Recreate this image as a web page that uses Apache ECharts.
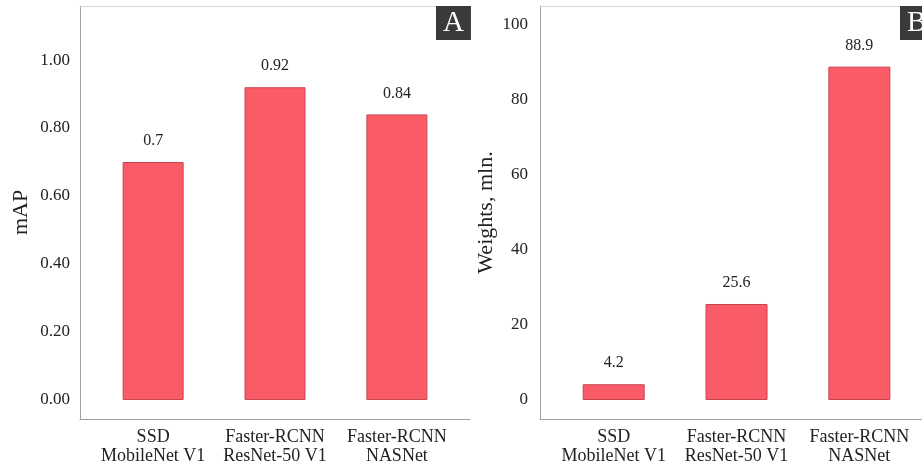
<!DOCTYPE html>
<html>
<head>
<meta charset="utf-8">
<script src="https://cdn.jsdelivr.net/npm/echarts@6/dist/echarts.min.js"></script>
<style>
html,body{margin:0;padding:0;background:#fff;}
#chart{width:922px;height:468px;}
</style>
</head>
<body>
<div id="chart"></div>
<script>
// ---- data ----
const categories = ['SSD\nMobileNet V1', 'Faster-RCNN\nResNet-50 V1', 'Faster-RCNN\nNASNet'];
const mapValues = [0.7, 0.92, 0.84];
const weightValues = [4.2, 25.6, 88.9];
const mapTicks = [0, 0.2, 0.4, 0.6, 0.8, 1.0];
const weightTicks = [0, 20, 40, 60, 80, 100];
const panelLetters = ['A', 'B'];

const FONT = 'Liberation Serif';
const BAR_COLOR = '#F95C67';
const BAR_BORDER = '#C9434F';
const TEXT = '#222222';

const chart = echarts.init(document.getElementById('chart'), null, {renderer: 'canvas'});

function xAxisMain(gridIndex, xMax) {
  return {
    type: 'value', gridIndex: gridIndex, min: -0.6, max: xMax, position: 'bottom',
    axisLine: {show: true, onZero: false, lineStyle: {color: '#a0a0a0', width: 1}},
    axisTick: {show: false},
    splitLine: {show: false},
    axisLabel: {
      customValues: categories.map((c, i) => i),
      formatter: v => categories[Math.round(v)],
      fontFamily: FONT, fontSize: 18, lineHeight: 19, color: TEXT, margin: 9,
      hideOverlap: false
    }
  };
}
function xAxisTop(gridIndex, xMax) {
  return {
    type: 'value', gridIndex: gridIndex, min: -0.6, max: xMax, position: 'top',
    axisLine: {show: true, onZero: false, lineStyle: {color: '#d4d4d4', width: 1}},
    axisTick: {show: false}, axisLabel: {show: false}, splitLine: {show: false}
  };
}

const option = {
  backgroundColor: '#ffffff',
  animation: false,
  title: [
    {text: panelLetters[0], left: 436, top: 6, padding: [0, 7], backgroundColor: '#3a3a3a',
     textStyle: {color: '#ffffff', fontFamily: FONT, fontSize: 29, fontWeight: 'normal', lineHeight: 34}},
    {text: panelLetters[1], left: 900, top: 6, padding: [0, 7], backgroundColor: '#3a3a3a',
     textStyle: {color: '#ffffff', fontFamily: FONT, fontSize: 29, fontWeight: 'normal', lineHeight: 34}}
  ],
  grid: [
    {left: 80, top: 6, width: 390, height: 413, containLabel: false},
    {left: 540, top: 6, width: 382, height: 413, containLabel: false}
  ],
  xAxis: [xAxisMain(0, 2.6), xAxisMain(1, 2.51), xAxisTop(0, 2.6), xAxisTop(1, 2.51)],
  yAxis: [
    {
      type: 'value', gridIndex: 0, min: -0.056, max: 1.159,
      name: 'mAP', nameLocation: 'middle', nameGap: 48,
      nameTextStyle: {fontFamily: FONT, fontSize: 22, color: TEXT},
      axisLine: {show: true, onZero: false, lineStyle: {color: '#a0a0a0', width: 1}},
      axisTick: {show: false}, splitLine: {show: false},
      axisLabel: {customValues: mapTicks, formatter: v => v.toFixed(2),
        fontFamily: FONT, fontSize: 17, color: TEXT, margin: 10}
    },
    {
      type: 'value', gridIndex: 1, min: -5.07, max: 105.07,
      name: 'Weights, mln.', nameLocation: 'middle', nameGap: 43,
      nameTextStyle: {fontFamily: FONT, fontSize: 22, color: TEXT},
      axisLine: {show: true, onZero: false, lineStyle: {color: '#a0a0a0', width: 1}},
      axisTick: {show: false}, splitLine: {show: false},
      axisLabel: {customValues: weightTicks, formatter: v => String(v),
        fontFamily: FONT, fontSize: 17, color: TEXT, margin: 12}
    }
  ],
  series: [
    {
      type: 'bar', xAxisIndex: 0, yAxisIndex: 0, barWidth: 61,
      data: mapValues.map((v, i) => [i, v]),
      itemStyle: {color: BAR_COLOR, borderColor: BAR_BORDER, borderWidth: 1},
      label: {show: true, position: 'top', distance: 13, formatter: p => String(p.value[1]),
        fontFamily: FONT, fontSize: 16, color: TEXT}
    },
    {
      type: 'bar', xAxisIndex: 1, yAxisIndex: 1, barWidth: 62,
      data: weightValues.map((v, i) => [i, v]),
      itemStyle: {color: BAR_COLOR, borderColor: BAR_BORDER, borderWidth: 1},
      label: {show: true, position: 'top', distance: 13, formatter: p => String(p.value[1]),
        fontFamily: FONT, fontSize: 16, color: TEXT}
    }
  ]
};
chart.setOption(option);
</script>
</body>
</html>
